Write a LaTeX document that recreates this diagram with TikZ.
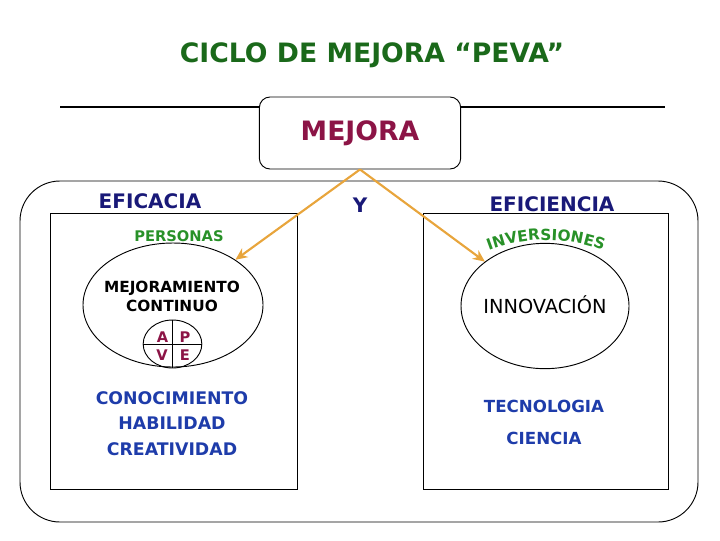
\documentclass[tikz,border=0pt]{standalone}
\usepackage{fontspec}
\setmainfont{DejaVu Sans}
\usetikzlibrary{shapes.geometric,arrows.meta,decorations.text}

\definecolor{titlegreen}{RGB}{26,105,26}
\definecolor{mejred}{RGB}{140,20,70}
\definecolor{navy}{RGB}{25,25,120}
\definecolor{itemblue}{RGB}{30,60,170}
\definecolor{leafgreen}{RGB}{40,145,40}
\definecolor{arroworange}{RGB}{232,165,60}

\begin{document}
\begin{tikzpicture}[x=0.75pt,y=-0.75pt,
  thinline/.style={draw=black,line width=0.7pt},
  head/.style={font=\bfseries\fontsize{15}{18}\selectfont,text=navy},
  tag/.style={font=\bfseries\fontsize{11}{13}\selectfont,text=leafgreen},
  items/.style={text=itemblue,align=center},
  pdca/.style={font=\bfseries\fontsize{11}{13}\selectfont,text=mejred},
  link/.style={draw=arroworange,line width=1.6pt,-{Stealth[length=9pt,width=8pt]}}]
  \useasboundingbox (0,0) rectangle (720,540);
  % title and top line
  \node[text=titlegreen,font=\bfseries\fontsize{20}{24}\selectfont] (title) at (372,55) {CICLO DE MEJORA “PEVA”};
  \draw[line width=1.5pt] (60,107) -- (665,107);
  \node[thinline,fill=white,rounded corners=8pt,minimum width=151pt,minimum height=54pt,
    text=mejred,font=\bfseries\fontsize{20}{24}\selectfont] (mejora) at (360,133) {MEJORA};
  % frames
  \draw[thinline,rounded corners=30pt] (20,181) rectangle (698,522);
  \draw[thinline] (50,213) rectangle (297,489);
  \draw[thinline] (423,213) rectangle (668,489);
  % headings
  \node[head] (eficacia) at (150,201) {EFICACIA};
  \node[head] (y) at (360,205) {Y};
  \node[head] (eficiencia) at (552,204) {EFICIENCIA};
  \node[tag] (personas) at (179,236.5) {PERSONAS};
  \path[decorate,decoration={text along path,text align=center,text color=leafgreen,
    text={|\bfseries\fontsize{11.5}{13}\selectfont|INVERSIONES}}]
    (546,400) ++(245:160) arc[start angle=245,end angle=295,radius=160];
  % left side
  \node[ellipse,thinline,minimum width=135pt,minimum height=93pt,inner sep=0pt] (conti) at (173,305) {};
  \node[font=\bfseries\fontsize{11.5}{14}\selectfont,align=center] (mejcont) at (172,296.5) {MEJORAMIENTO\\CONTINUO};
  \node[ellipse,thinline,minimum width=44pt,minimum height=36pt,inner sep=0pt] (apve) at (172.5,344) {};
  \draw[thinline] (apve.north) -- (apve.south);
  \draw[thinline] (apve.west) -- (apve.east);
  \node[pdca] (a) at (162.5,337.5) {A};
  \node[pdca] (p) at (185,337.5) {P};
  \node[pdca] (v) at (162,355.5) {V};
  \node[pdca] (e) at (185,355.5) {E};
  \node[items,font=\bfseries\fontsize{13}{19}\selectfont] (saber) at (172,423.5) {CONOCIMIENTO\\HABILIDAD\\CREATIVIDAD};
  % right side
  \node[ellipse,thinline,minimum width=126pt,minimum height=94pt,inner sep=0pt] (innov) at (545,306) {};
  \node[anchor=base,font=\fontsize{14.5}{17}\selectfont] (innovtxt) at (545,313) {INNOVACIÓN};
  \node[items,font=\bfseries\fontsize{12.5}{24}\selectfont] (tecno) at (544,422.5) {TECNOLOGIA\\CIENCIA};
  % arrows
  \draw[link] (mejora.south) -- (conti);
  \draw[link] (mejora.south) -- (innov);
\end{tikzpicture}
\end{document}
